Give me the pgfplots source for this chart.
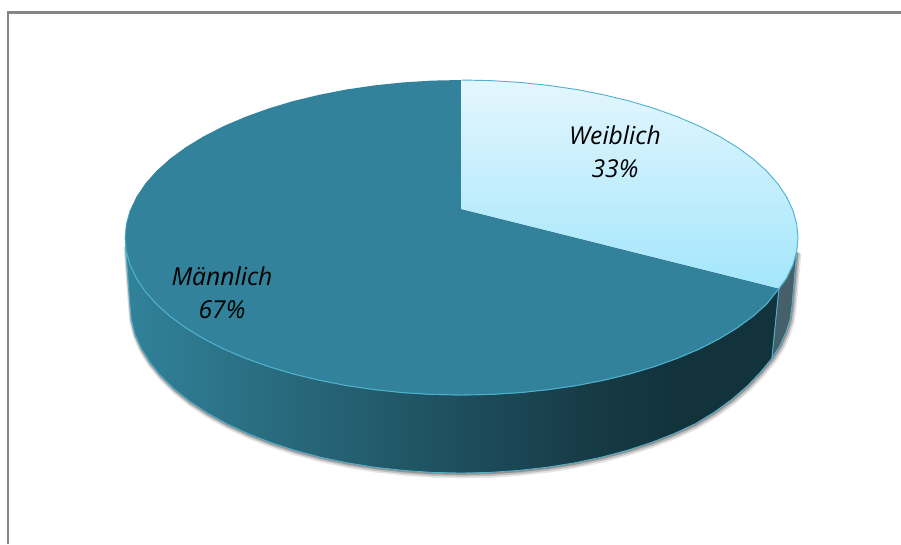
\documentclass[border=0pt]{standalone}
\usepackage{pgfplots}
\usepackage{pgfplotstable}
\usepackage{fontspec}
\setmainfont{Open Sans}
\pgfplotsset{compat=1.18}

\definecolor{maleTop}{HTML}{31829A}
\definecolor{femTop}{HTML}{E4F6FD}
\definecolor{femBot}{HTML}{A3E6FC}
\definecolor{femSide}{HTML}{456068}
\definecolor{edge}{HTML}{4FB3D0}
\definecolor{frame}{HTML}{868686}

% dark band on the side, 25bp..75bp is the width of the slice
\pgfdeclarehorizontalshading{sideband}{100bp}{
  color(0bp)=(maleTop);
  color(25bp)=(maleTop);
  color(34bp)=(rgb,255:red,43;green,112;blue,132);
  color(50bp)=(rgb,255:red,30;green,79;blue,94);
  color(61bp)=(rgb,255:red,22;green,58;blue,69);
  color(68bp)=(rgb,255:red,18;green,50;blue,60);
  color(100bp)=(rgb,255:red,18;green,50;blue,60)}

% outer rim of the disc's underside, in picture pixels
\pgfplotstableread{
x y
796.7 251.2
792.0 305.0
790.0 319.6
786.0 332.0
780.0 345.5
772.0 358.0
761.0 371.5
747.7 385.5
732.2 399.0
714.5 412.0
695.1 423.8
673.8 433.7
650.9 442.6
626.5 450.5
600.9 457.3
574.2 462.9
546.7 467.3
518.5 470.4
489.9 472.4
461.0 473.0
432.1 472.4
403.5 470.4
375.3 467.3
347.8 462.9
321.1 457.3
295.5 450.5
271.1 442.6
248.2 433.7
226.9 423.8
207.5 413.0
189.8 401.4
174.3 389.0
161.0 376.0
150.0 362.5
141.3 348.5
135.0 334.2
131.3 319.6
130.0 305.0
125.5 245.0
}\rimtable

% front half of the top face
\pgfplotstableread{
x y
779.0 288.5
766.5 304.1
752.9 316.3
737.2 327.8
719.3 338.7
699.4 348.9
677.8 358.1
654.5 366.5
629.8 373.9
603.7 380.2
576.6 385.5
548.6 389.6
519.9 392.6
490.8 394.4
461.5 395.0
432.2 394.4
403.1 392.6
374.4 389.6
346.4 385.5
319.3 380.2
293.2 373.9
268.5 366.5
245.2 358.1
223.6 348.9
203.7 338.7
185.8 327.8
170.1 316.3
156.5 304.1
145.3 291.4
136.5 278.3
130.1 264.8
126.3 251.2
125.0 237.5
}\fronttable

\begin{document}
\begin{tikzpicture}
\begin{axis}[
    scale only axis,
    width=675.75pt,
    height=408pt,
    xmin=0, xmax=901,
    ymin=0, ymax=544,
    y dir=reverse,
    hide axis,
    clip=true,
]
% white page, also fixes the picture's size
\addplot[draw=none, fill=white] coordinates {(0,0)(901,0)(901,544)(0,544)} -- cycle;

% soft shadow under the rim
\addplot[black, opacity=0.10, line width=5pt, no markers, xshift=1pt, yshift=-1.5pt] table {\rimtable};
\addplot[black, opacity=0.16, line width=3.2pt, no markers, xshift=0.8pt, yshift=-1.1pt] table {\rimtable};
\addplot[black, opacity=0.24, line width=1.6pt, no markers, xshift=0.4pt, yshift=-0.6pt] table {\rimtable};

% side of the Maennlich slice
\addplot[draw=edge, line width=0.6pt, shading=sideband] coordinates {
(779.0,288.5)(766.5,304.1)(752.9,316.3)(737.2,327.8)(719.3,338.7)(699.4,348.9)(677.8,358.1)(654.5,366.5)
(629.8,373.9)(603.7,380.2)(576.6,385.5)(548.6,389.6)(519.9,392.6)(490.8,394.4)(461.5,395.0)(432.2,394.4)
(403.1,392.6)(374.4,389.6)(346.4,385.5)(319.3,380.2)(293.2,373.9)(268.5,366.5)(245.2,358.1)(223.6,348.9)
(203.7,338.7)(185.8,327.8)(170.1,316.3)(156.5,304.1)(145.3,291.4)(136.5,278.3)(130.1,264.8)(126.3,251.2)
(125.5,245.0)(130.0,305.0)(131.3,319.6)(135.0,334.2)(141.3,348.5)(150.0,362.5)(161.0,376.0)(174.3,389.0)
(189.8,401.4)(207.5,413.0)(226.9,423.8)(248.2,433.7)(271.1,442.6)(295.5,450.5)(321.1,457.3)(347.8,462.9)
(375.3,467.3)(403.5,470.4)(432.1,472.4)(461.0,473.0)(489.9,472.4)(518.5,470.4)(546.7,467.3)(574.2,462.9)
(600.9,457.3)(626.5,450.5)(650.9,442.6)(673.8,433.7)(695.1,423.8)(714.5,412.0)(732.2,399.0)(747.7,385.5)(761.0,371.5)(772.0,358.0)
} -- cycle;

% side of the Weiblich slice
\addplot[draw=edge, line width=0.6pt, fill=femSide] coordinates {
(779.0,288.5)(786.5,278.3)(792.9,264.8)(796.7,251.2)(792.0,305.0)(790.0,319.6)(786.0,332.0)(780.0,345.5)(772.0,358.0)
} -- cycle;

% top face: Maennlich
\addplot[draw=none, fill=maleTop] coordinates {
(798.0,237.5)(796.7,251.2)(792.9,264.8)(786.5,278.3)(779.0,288.5)(766.5,304.1)(752.9,316.3)(737.2,327.8)
(719.3,338.7)(699.4,348.9)(677.8,358.1)(654.5,366.5)(629.8,373.9)(603.7,380.2)(576.6,385.5)(548.6,389.6)
(519.9,392.6)(490.8,394.4)(461.5,395.0)(432.2,394.4)(403.1,392.6)(374.4,389.6)(346.4,385.5)(319.3,380.2)
(293.2,373.9)(268.5,366.5)(245.2,358.1)(223.6,348.9)(203.7,338.7)(185.8,327.8)(170.1,316.3)(156.5,304.1)
(145.3,291.4)(136.5,278.3)(130.1,264.8)(126.3,251.2)(125.0,237.5)(126.3,223.8)(130.1,210.2)(136.5,196.7)
(145.3,183.6)(156.5,170.9)(170.1,158.7)(185.8,147.2)(203.7,136.3)(223.6,126.1)(245.2,116.9)(268.5,108.5)
(293.2,101.1)(319.3,94.8)(346.4,89.5)(374.4,85.4)(403.1,82.4)(432.2,80.6)(461.5,80.0)
(461.5,209.0)(779.0,288.5)(798.0,237.5)
} -- cycle;

% top face: Weiblich
\addplot[draw=none, top color=femTop, bottom color=femBot] coordinates {
(461.5,209.0)(461.5,80.0)(490.8,80.6)(519.9,82.4)(548.6,85.4)(576.6,89.5)(603.7,94.8)(629.8,101.1)(654.5,108.5)
(677.8,116.9)(699.4,126.1)(719.3,136.3)(737.2,147.2)(752.9,158.7)(766.5,170.9)(777.7,183.6)(786.5,196.7)
(792.9,210.2)(796.7,223.8)(798.0,237.5)(796.7,251.2)(792.9,264.8)(786.5,278.3)(779.0,288.5)
} -- cycle;

% pale rims
\addplot[edge, line width=0.7pt, no markers] table {\fronttable};
\addplot[edge, line width=0.7pt, no markers] coordinates {
(779.0,288.5)(786.5,278.3)(792.9,264.8)(796.7,251.2)(798.0,237.5)(796.7,223.8)(792.9,210.2)(786.5,196.7)
(777.7,183.6)(766.5,170.9)(752.9,158.7)(737.2,147.2)(719.3,136.3)(699.4,126.1)(677.8,116.9)(654.5,108.5)
(629.8,101.1)(603.7,94.8)(576.6,89.5)(548.6,85.4)(519.9,82.4)(490.8,80.6)(461.5,80.0)
};
\addplot[edge, line width=0.5pt, no markers] coordinates {(125.0,237.5)(126.3,223.8)(130.1,210.2)};

% chart frame
\addplot[frame, line width=1.6pt, no markers] coordinates {(8,544)(8,12.5)(901,12.5)};

\node[font=\fontsize{18.5}{25}\selectfont\itshape, align=center, text=black] at (axis cs:615,152) {Weiblich\\33\%};
\node[font=\fontsize{18.5}{25}\selectfont\itshape, align=center, text=black] at (axis cs:222,292.5) {Männlich\\67\%};
\end{axis}
\end{tikzpicture}
\end{document}
